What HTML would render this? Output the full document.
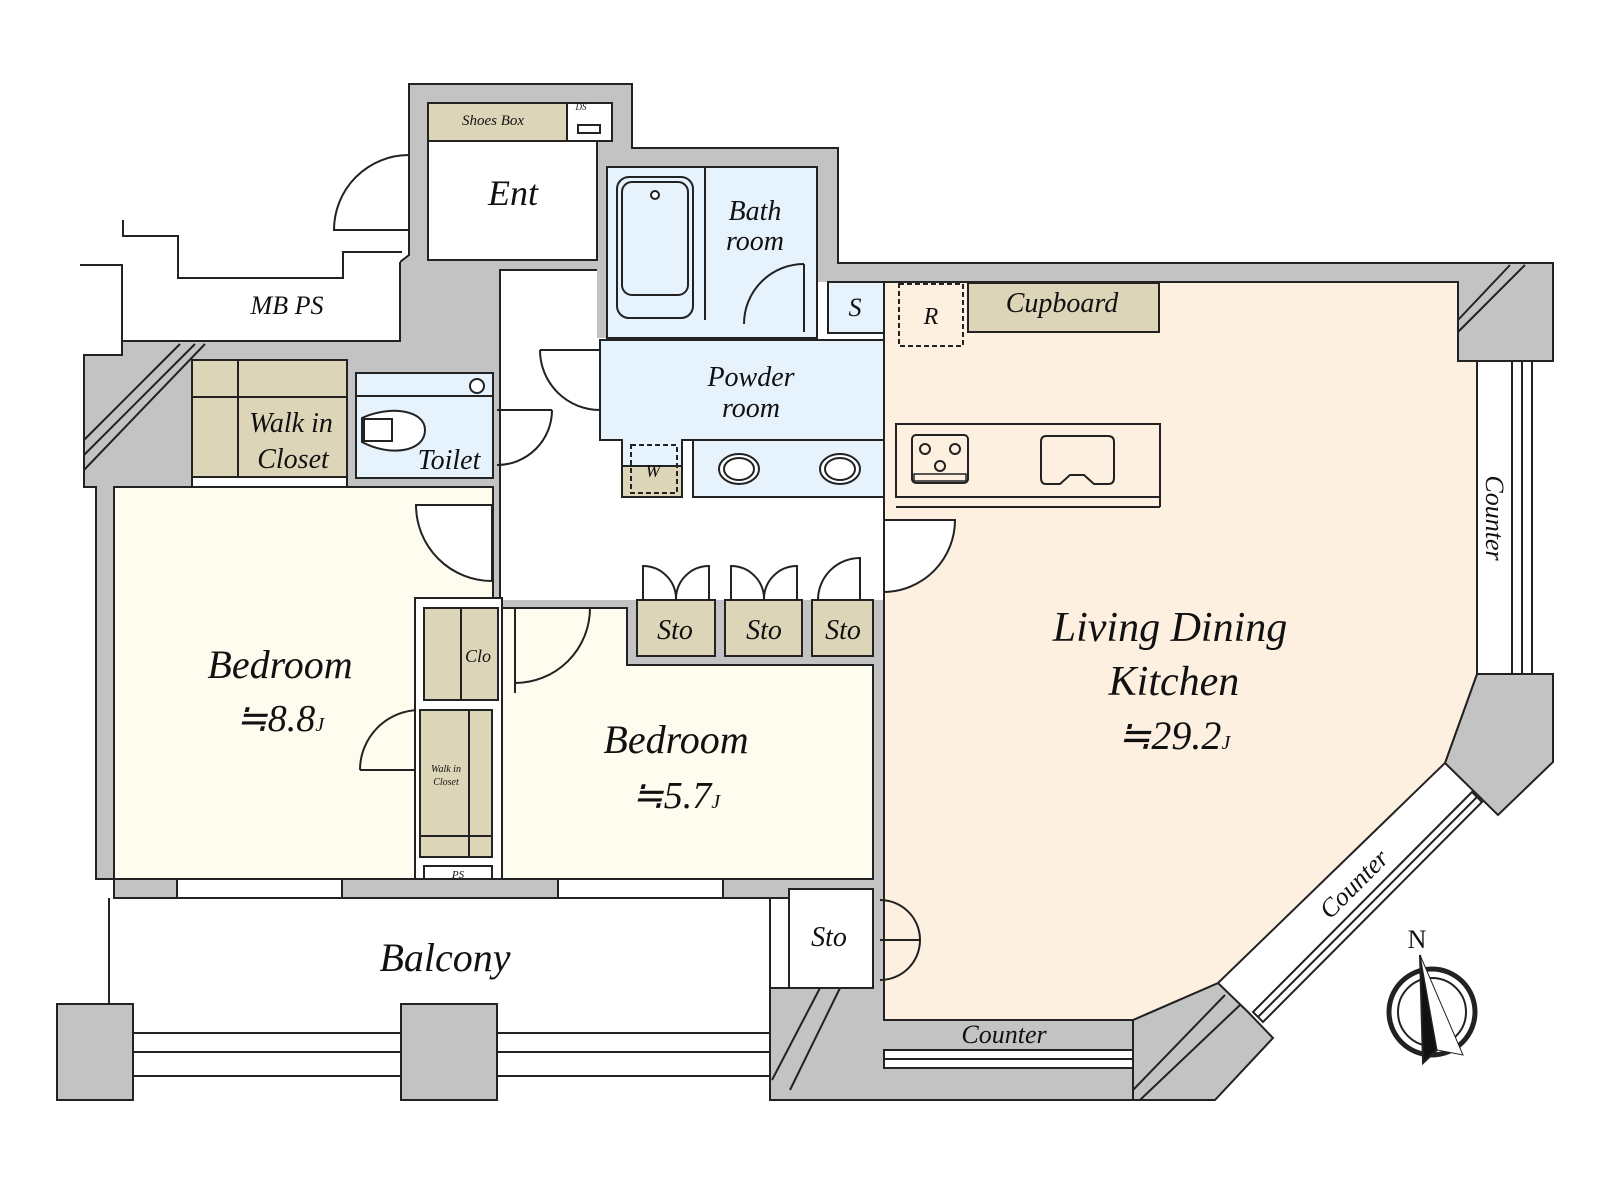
<!DOCTYPE html>
<html><head><meta charset="utf-8"><style>
html,body{margin:0;padding:0;background:#fff}
svg{display:block}
text{font-family:"Liberation Serif",serif;font-style:italic;fill:#111;text-anchor:middle}
</style></head><body>
<svg width="1600" height="1200" viewBox="0 0 1600 1200" xmlns="http://www.w3.org/2000/svg">
<g stroke="#222" stroke-width="2">
<g fill="#c3c3c3">
<polygon points="409,84 632,84 632,148 838,148 838,263 1553,263 1553,361 1458,361 1458,282 884,282 884,1020 1133,1020 1133,1100 770,1100 770,988 789,988 789,898 114,898 114,879 96,879 96,487 84,487 84,355 122,355 122,341 400,341 400,262 409,255"/>
<polygon points="1477,674 1553,674 1553,762 1498,815 1445,763"/>
<polygon points="1133,1020 1218,983 1248,1012 1273,1038 1215,1100 1133,1100"/>
<rect x="57" y="1004" width="76" height="96"/>
<rect x="401" y="1004" width="96" height="96"/>
</g>
<g fill="#fff" stroke="none">
<rect x="500" y="270" width="97" height="330"/>
<rect x="597" y="338" width="287" height="262"/>
<rect x="817" y="282" width="67" height="60"/>
<polygon points="122,265 123,236 178,236 178,278 343,278 343,252 400,252 400,341 122,341"/>
</g>
<polyline points="500,608 500,270 597,270" fill="none"/>
<rect x="428" y="141" width="169" height="119" fill="#fff"/>
<polyline points="123,220 123,236 178,236 178,278 343,278 343,252 402,252" fill="none"/>
<polyline points="80,265 122,265 122,341 400,341 400,262" fill="none"/>
<rect x="428" y="103" width="139" height="38" fill="#ddd5b8"/>
<rect x="567" y="103" width="45" height="38" fill="#fff"/>
<rect x="578" y="125" width="22" height="8" fill="#fff"/>
<rect x="607" y="167" width="210" height="171" fill="#e6f2fc"/>
<rect x="617" y="177" width="76" height="141" rx="12" fill="#e6f2fc"/>
<rect x="622" y="182" width="66" height="113" rx="10" fill="none"/>
<circle cx="655" cy="195" r="4" fill="#fff"/>
<line x1="705" y1="167" x2="705" y2="320"/>
<path d="M804,264 A60,60 0 0 0 744,324" fill="none"/>
<line x1="804" y1="264" x2="804" y2="332"/>
<rect x="828" y="282" width="56" height="51" fill="#e6f2fc"/>
<path d="M880,389 A45,45 0 0 1 835,344" fill="none"/>
<polygon points="600,340 887,340 887,497 693,497 693,440 682,440 682,497 622,497 622,440 600,440" fill="#e6f2fc"/>
<rect x="693" y="440" width="194" height="57" fill="#e6f2fc"/>
<rect x="622" y="466" width="60" height="31" fill="#ddd5b8"/>
<rect x="631" y="445" width="46" height="48" fill="none" stroke-dasharray="5,3"/>
<ellipse cx="739" cy="469" rx="20" ry="15" fill="#fff"/><ellipse cx="739" cy="469" rx="15" ry="11" fill="none"/>
<ellipse cx="840" cy="469" rx="20" ry="15" fill="#fff"/><ellipse cx="840" cy="469" rx="15" ry="11" fill="none"/>
<path d="M600,410 A60,60 0 0 1 540,350" fill="none"/><line x1="600" y1="350" x2="540" y2="350"/>
<rect x="192" y="360" width="155" height="117" fill="#ddd5b8"/>
<line x1="238" y1="360" x2="238" y2="477"/><line x1="192" y1="397" x2="347" y2="397"/>
<rect x="192" y="477" width="155" height="10" fill="#fff"/>
<rect x="356" y="373" width="137" height="105" fill="#e6f2fc"/>
<line x1="356" y1="396" x2="493" y2="396"/>
<circle cx="477" cy="386" r="7" fill="#fff"/>
<path d="M362,418 C390,405 425,410 425,430 C425,452 390,457 362,442 Z" fill="#fff"/>
<rect x="364" y="419" width="28" height="22" fill="#fff"/>
<path d="M497,465 A55,55 0 0 0 552,410" fill="none"/><line x1="497" y1="410" x2="552" y2="410"/>
<polygon points="114,487 493,487 493,598 415,598 415,879 114,879" fill="#fefcef"/>
<path d="M492,505 L416,505 A76,76 0 0 0 492,581 Z" fill="#fff"/>
<path d="M360,770 A60,60 0 0 1 420,710" fill="none"/><line x1="360" y1="770" x2="420" y2="770"/>
<rect x="177" y="879" width="165" height="19" fill="#fff"/>
<rect x="415" y="598" width="87" height="281" fill="#fff"/>
<rect x="424" y="608" width="74" height="92" fill="#ddd5b8"/><line x1="461" y1="608" x2="461" y2="700"/>
<rect x="420" y="710" width="72" height="147" fill="#ddd5b8"/><line x1="469" y1="710" x2="469" y2="857"/><line x1="420" y1="836" x2="492" y2="836"/>
<rect x="424" y="866" width="68" height="13" fill="#fff"/>
<polygon points="502,608 627,608 627,665 873,665 873,879 502,879" fill="#fefcef"/>
<path d="M590,608 A75,75 0 0 1 515,683" fill="none"/><line x1="515" y1="608" x2="515" y2="693"/>
<rect x="558" y="879" width="165" height="19" fill="#fff"/>
<rect x="637" y="600" width="78" height="56" fill="#ddd5b8"/>
<rect x="725" y="600" width="77" height="56" fill="#ddd5b8"/>
<rect x="812" y="600" width="61" height="56" fill="#ddd5b8"/>
<path d="M643,600 L643,566 A33,33 0 0 1 676,599 A33,33 0 0 1 709,566 L709,600" fill="none"/>
<path d="M731,600 L731,566 A33,33 0 0 1 764,599 A33,33 0 0 1 797,566 L797,600" fill="none"/>
<path d="M818,600 A42,42 0 0 1 860,558 L860,600" fill="none"/>
<polygon points="884,282 1458,282 1458,361 1477,361 1477,674 1445,763 1218,983 1133,1020 884,1020" fill="#fdf0e0"/>
<rect x="968" y="283" width="191" height="49" fill="#ddd5b8"/>
<rect x="899" y="284" width="64" height="62" fill="none" stroke-dasharray="5,3"/>
<rect x="896" y="424" width="264" height="73" fill="#fdf0e0"/>
<line x1="896" y1="507" x2="1160" y2="507"/><line x1="1160" y1="497" x2="1160" y2="507"/>
<rect x="912" y="435" width="56" height="48" rx="4" fill="#fdf0e0"/>
<circle cx="925" cy="449" r="5" fill="none"/><circle cx="955" cy="449" r="5" fill="none"/><circle cx="940" cy="466" r="5" fill="none"/>
<rect x="914" y="474" width="52" height="7" fill="none" stroke-width="1.5"/>
<path d="M1046,436 L1108,436 Q1114,436 1114,442 L1114,478 Q1114,484 1108,484 L1094,484 L1084,475 L1070,475 L1060,484 L1046,484 Q1041,484 1041,478 L1041,442 Q1041,436 1046,436 Z" fill="none"/>
<path d="M884,520 L955,520 A72,72 0 0 1 884,592 Z" fill="#fff"/>
<rect x="1512" y="361" width="20" height="313" fill="#fff"/><line x1="1522" y1="361" x2="1522" y2="674"/>
<line x1="1477" y1="361" x2="1512" y2="361"/>
<polygon points="1472,792 1253,1012 1263,1022 1482,802" fill="#fff"/>
<line x1="1477" y1="797" x2="1258" y2="1017"/>
<line x1="884" y1="1050" x2="1133" y2="1050"/>
<rect x="884" y="1050" width="249" height="18" fill="#fff"/><line x1="884" y1="1059" x2="1133" y2="1059"/>
<rect x="789" y="889" width="84" height="99" fill="#fff"/>
<path d="M880,900 A40,40 0 0 1 920,940 L880,940 L920,940 A40,40 0 0 1 880,980" fill="none"/>
<path d="M409,155 A75,75 0 0 0 334,230 L409,230" fill="none"/>
<polyline points="109,898 109,1004" fill="none"/>
<line x1="770" y1="898" x2="770" y2="1100"/>
<line x1="133" y1="1033" x2="401" y2="1033"/><line x1="133" y1="1052" x2="401" y2="1052"/><line x1="133" y1="1076" x2="401" y2="1076"/>
<line x1="497" y1="1033" x2="770" y2="1033"/><line x1="497" y1="1052" x2="770" y2="1052"/><line x1="497" y1="1076" x2="770" y2="1076"/>
<g stroke-width="2">
<line x1="84" y1="440" x2="180" y2="344"/><line x1="84" y1="455" x2="195" y2="344"/><line x1="84" y1="470" x2="205" y2="344"/>
<line x1="1458" y1="320" x2="1510" y2="265"/><line x1="1458" y1="332" x2="1525" y2="265"/>
<line x1="1133" y1="1090" x2="1225" y2="995"/><line x1="1140" y1="1100" x2="1240" y2="1005"/>
<line x1="772" y1="1080" x2="820" y2="988"/><line x1="790" y1="1090" x2="840" y2="988"/>
</g>
<circle cx="1432" cy="1012" r="43" fill="none" stroke-width="5"/>
<circle cx="1432" cy="1012" r="34" fill="none" stroke-width="2"/>
<polygon points="1420,955 1437,1050 1423,1063" fill="#111"/>
<polygon points="1420,955 1463,1055 1437,1050" fill="#fff" stroke-width="1"/>
</g>
<text x="493" y="125" font-size="15">Shoes Box</text>
<text x="581" y="110" font-size="9">DS</text>
<text x="513" y="205" font-size="36">Ent</text>
<text x="755" y="220" font-size="28">Bath</text>
<text x="755" y="250" font-size="28">room</text>
<text x="287" y="314" font-size="26">MB PS</text>
<text x="855" y="316" font-size="26">S</text>
<text x="931" y="324" font-size="24">R</text>
<text x="1062" y="312" font-size="28">Cupboard</text>
<text x="751" y="386" font-size="28">Powder</text>
<text x="751" y="417" font-size="28">room</text>
<text x="653" y="477" font-size="18">W</text>
<text x="291" y="432" font-size="28">Walk in</text>
<text x="293" y="468" font-size="28">Closet</text>
<text x="449" y="469" font-size="28">Toilet</text>
<text x="280" y="678" font-size="40">Bedroom</text>
<text x="280" y="731" font-size="38">≒8.8<tspan font-size="20">J</tspan></text>
<text x="478" y="662" font-size="18">Clo</text>
<text x="446" y="772" font-size="10">Walk in</text>
<text x="446" y="785" font-size="10">Closet</text>
<text x="458" y="878" font-size="11">PS</text>
<text x="675" y="639" font-size="28">Sto</text>
<text x="764" y="639" font-size="28">Sto</text>
<text x="843" y="639" font-size="28">Sto</text>
<text x="829" y="946" font-size="28">Sto</text>
<text x="676" y="753" font-size="40">Bedroom</text>
<text x="676" y="808" font-size="38">≒5.7<tspan font-size="20">J</tspan></text>
<text x="1170" y="641" font-size="42">Living Dining</text>
<text x="1174" y="695" font-size="42">Kitchen</text>
<text x="1174" y="749" font-size="40">≒29.2<tspan font-size="20">J</tspan></text>
<text x="1004" y="1043" font-size="26">Counter</text>
<text x="445" y="971" font-size="40">Balcony</text>
<text transform="translate(1486,518) rotate(90)" font-size="26">Counter</text>
<text transform="translate(1360,890) rotate(-45)" font-size="26">Counter</text>
<text x="1417" y="948" font-size="26" style="font-style:normal">N</text>
</svg>
</body></html>
